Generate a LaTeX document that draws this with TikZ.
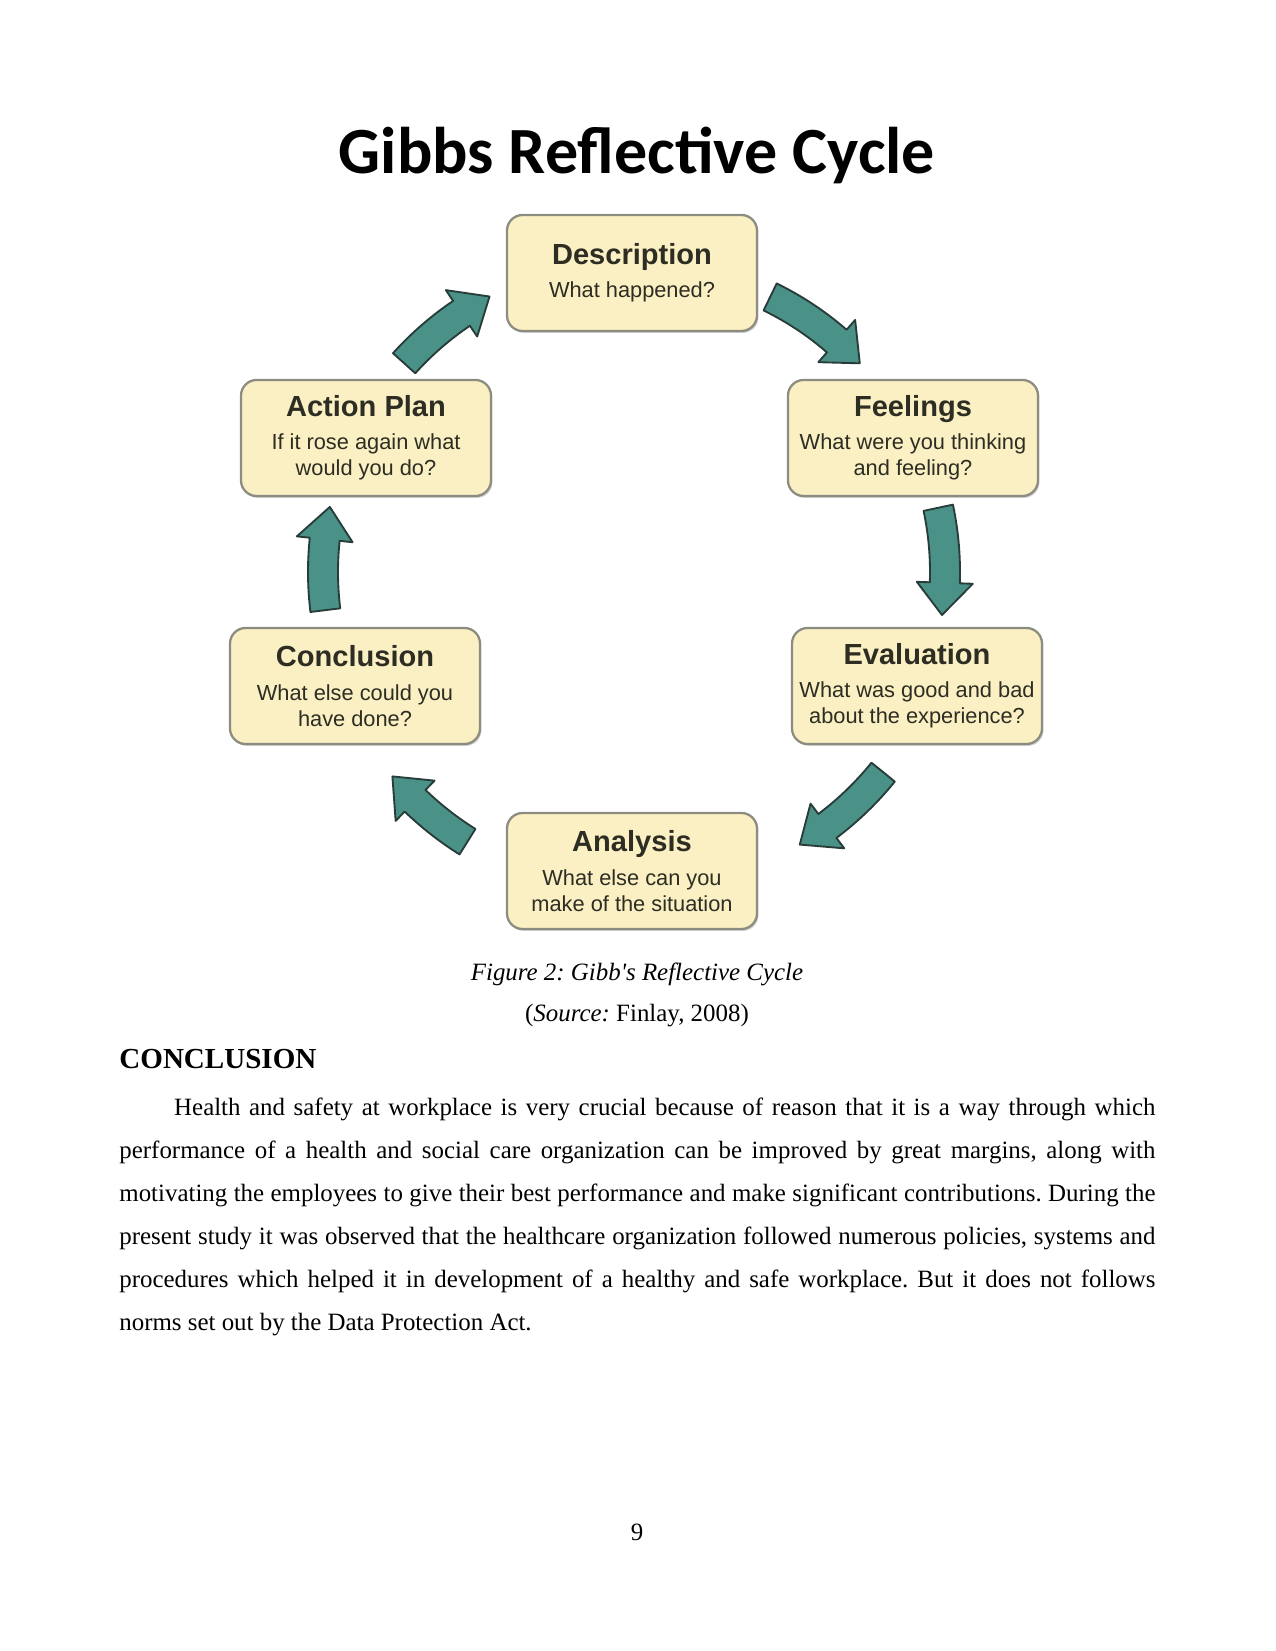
\documentclass[tikz,border=0pt]{standalone}
\usepackage{fontspec}
\setmainfont{Liberation Serif}
\newfontfamily\titlefont{Carlito}
\newfontfamily\boxfont{Liberation Sans}
\usetikzlibrary{shadows}
\frenchspacing
\definecolor{boxfill}{RGB}{250,240,195}
\definecolor{boxline}{RGB}{140,140,128}
\definecolor{arrowfill}{RGB}{74,145,135}
\definecolor{arrowline}{RGB}{40,60,58}
\definecolor{boxtext}{RGB}{45,45,35}
\newcommand\cyclearrow[4]{%
  \pgfmathsetmacro\cycHB{#4+6}%
  \draw[cyc, shift={(#1)}] (#3:#2+15) arc[start angle=#3, end angle=\cycHB, radius=#2+15]
    -- (\cycHB:#2+28) -- (#4:#2) -- (\cycHB:#2-28) -- (\cycHB:#2-15)
    arc[start angle=\cycHB, end angle=#3, radius=#2-15] -- cycle;}
\tikzset{
  stagebox/.style={draw=boxline, line width=1.1pt, fill=boxfill, rounded corners=7.5bp,
    minimum width=120bp, minimum height=55.7bp, inner sep=1pt, align=center,
    text=boxtext, font=\boxfont\fontsize{10.5}{12.5}\selectfont,
    drop shadow={shadow xshift=0.7pt, shadow yshift=-0.9pt, fill=black!40, opacity=0.45}},
  cyc/.style={draw=arrowline, line width=0.9pt, fill=arrowfill, line join=round},
}
\newcommand\headf[1]{{\fontsize{14}{16}\selectfont\bfseries #1}\\[3.5pt]}
\begin{document}
\begin{tikzpicture}[x=0.48bp, y=0.48bp]
\useasboundingbox (0,0) rectangle (1275,-1651);
\node[anchor=base] (title) at (637,-173) {\titlefont\bfseries\fontsize{31.8}{36}\selectfont Gibbs Reflective Cycle};

\coordinate (C) at (636,-572);

\node[stagebox] (desc) at (632,-273) {\headf{Description}What happened?};
\node[stagebox] (feel) at (913,-438) {\headf{Feelings}What were you thinking\\and feeling?};
\node[stagebox] (eval) at (917,-686) {\headf{Evaluation}What was good and bad\\about the experience?};
\node[stagebox] (anal) at (632,-871) {\headf{Analysis}What else can you\\make of the situation};
\node[stagebox] (conc) at (355,-686) {\headf{Conclusion}What else could you\\have done?};
\node[stagebox] (act) at (366,-438) {\headf{Action Plan}If it rose again what\\would you do?};

\cyclearrow{C}{306}{64}{43}
\cyclearrow{C}{309}{12}{-8}
\cyclearrow{C}{318}{-39}{-59}
\cyclearrow{C}{318}{-122}{-140}
\cyclearrow{C}{313}{187}{168}
\cyclearrow{C}{312}{138}{118}

\node[anchor=base] (cap) at (637,-980) {\fontsize{12}{14}\selectfont\itshape Figure 2: Gibb\textquotesingle s Reflective Cycle};
\node[anchor=base] (src) at (637,-1021) {\fontsize{12}{14}\selectfont(\textit{Source:} Finlay, 2008)};
\node[anchor=base west, inner sep=0] (head) at (119,-1068) {\fontsize{14}{16}\selectfont\bfseries CONCLUSION};
\node[anchor=north west, inner sep=0, text width=497.3bp, align=justify,
  font=\fontsize{12}{20.7}\selectfont] (para) at (119,-1098) {\hspace*{26.3bp}Health and safety at workplace is very crucial because of reason that it is a way through which\linebreak
performance of a health and social care organization can be improved by great margins, along with\linebreak
motivating the employees to give their best performance and make significant contributions. During the\linebreak
present study it was observed that the healthcare organization followed numerous policies, systems and\linebreak
procedures which helped it in development of a healthy and safe workplace. But it does not follows\linebreak
norms set out by the Data Protection Act.};
\node[anchor=base] (pg) at (637,-1540) {\fontsize{12}{14}\selectfont 9};
\end{tikzpicture}
\end{document}
